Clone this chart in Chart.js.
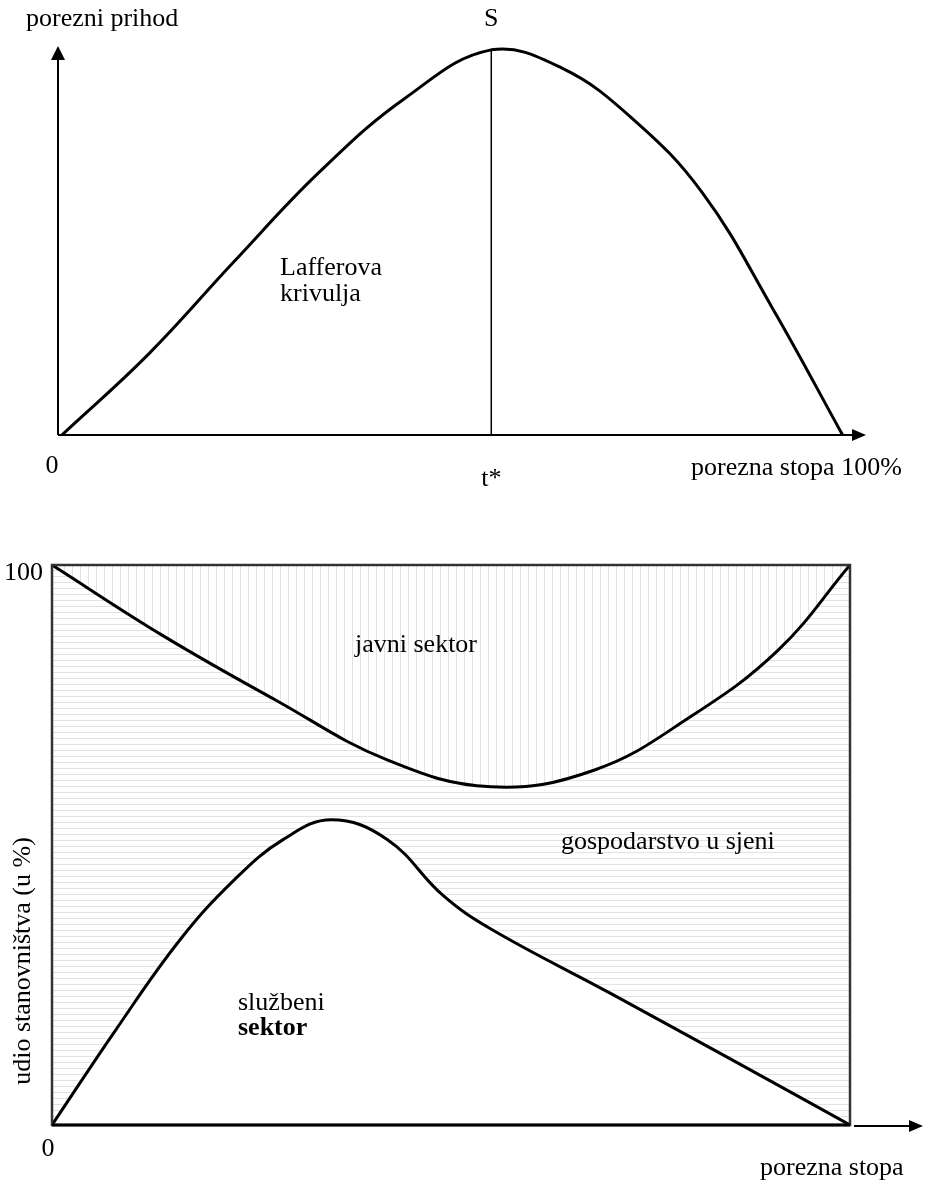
<!DOCTYPE html>
<html>
<head>
<meta charset="utf-8">
<script src="https://cdn.jsdelivr.net/npm/chart.js@4"></script>
<style>
  body { margin: 0; background: #fff; }
  canvas { position: absolute; left: 0; }
</style>
</head>
<body>
<canvas id="lafferChart" width="927" height="520" style="top:0"></canvas>
<canvas id="sectorChart" width="927" height="643" style="top:540px"></canvas>
<script>
// Lafferova krivulja (porezna stopa u %, porezni prihod relativno)
const lafferRate = [0, 11, 22, 33, 44, 55, 64, 73, 82, 91, 100];
const lafferRevenue = [0, 20.8, 44.9, 68.3, 87.5, 100, 95.3, 82.3, 63, 33, 0];
const tStar = 55;

// udio stanovništva (u %) - granica javnog sektora
const publicRate = [0, 14, 28, 42, 55, 68, 80, 91, 100];
const publicShare = [100, 87.3, 75.9, 65.2, 60.4, 63.4, 72.9, 84.8, 100];

// udio stanovništva (u %) - službeni sektor
const officialRate = [0, 8, 16, 23, 29, 35, 42, 49, 55, 70, 85, 100];
const officialShare = [0, 17, 33, 44, 51, 54.5, 51, 41, 35, 23.5, 11.8, 0];

const SERIF = '"Liberation Serif", "DejaVu Serif", serif';

function pairs(xs, ys) {
  return xs.map((x, i) => ({ x: x, y: ys[i] }));
}

function hatch(w, h, vertical) {
  const c = document.createElement('canvas');
  c.width = w;
  c.height = h;
  const g = c.getContext('2d');
  g.fillStyle = '#fff';
  g.fillRect(0, 0, w, h);
  g.fillStyle = '#e2e2e2';
  if (vertical) g.fillRect(0, 0, 1, h);
  else g.fillRect(0, 0, w, 1);
  return g.createPattern(c, 'repeat');
}

function arrowRight(ctx, x, y) {
  ctx.beginPath();
  ctx.moveTo(x, y);
  ctx.lineTo(x - 14, y - 6);
  ctx.lineTo(x - 14, y + 6);
  ctx.closePath();
  ctx.fill();
}

function arrowUp(ctx, x, y) {
  ctx.beginPath();
  ctx.moveTo(x, y);
  ctx.lineTo(x - 7, y + 14);
  ctx.lineTo(x + 7, y + 14);
  ctx.closePath();
  ctx.fill();
}

function text(ctx, str, x, y, align, bold) {
  ctx.font = (bold ? 'bold ' : '') + '26px ' + SERIF;
  ctx.textAlign = align || 'left';
  ctx.textBaseline = 'alphabetic';
  ctx.fillText(str, x, y);
}

const lafferDecor = {
  id: 'lafferDecor',
  beforeDatasetsDraw(chart) {
    const { ctx, chartArea: a } = chart;
    ctx.save();
    ctx.strokeStyle = '#000';
    ctx.fillStyle = '#000';
    ctx.lineWidth = 2;
    ctx.beginPath();
    ctx.moveTo(a.left, a.bottom);
    ctx.lineTo(a.left, a.top + 12);
    ctx.moveTo(a.left, a.bottom);
    ctx.lineTo(a.right - 12, a.bottom);
    ctx.stroke();
    arrowUp(ctx, a.left, a.top);
    arrowRight(ctx, a.right, a.bottom);
    ctx.restore();
  },
  afterDraw(chart) {
    const { ctx } = chart;
    const xs = chart.scales.x;
    ctx.save();
    ctx.fillStyle = '#000';
    text(ctx, 'porezni prihod', 26, 26);
    text(ctx, 'S', xs.getPixelForValue(tStar), 26, 'center');
    text(ctx, 'Lafferova', 280, 275);
    text(ctx, 'krivulja', 280, 301);
    text(ctx, '0', 52, 473, 'center');
    text(ctx, 't*', xs.getPixelForValue(tStar), 486, 'center');
    text(ctx, 'porezna stopa 100%', 691, 475);
    ctx.restore();
  }
};

const sectorDecor = {
  id: 'sectorDecor',
  beforeDraw(chart) {
    const { ctx, chartArea: a } = chart;
    ctx.save();
    ctx.fillStyle = hatch(6, 6, false);
    ctx.fillRect(a.left, a.top, a.right - a.left, a.bottom - a.top);
    ctx.restore();
  },
  afterDraw(chart) {
    const { ctx, chartArea: a } = chart;
    ctx.save();
    ctx.strokeStyle = '#333';
    ctx.lineWidth = 2.5;
    ctx.strokeRect(a.left, a.top, a.right - a.left, a.bottom - a.top);
    ctx.strokeStyle = '#000';
    ctx.lineWidth = 3;
    ctx.beginPath();
    ctx.moveTo(a.left, a.bottom);
    ctx.lineTo(a.right, a.bottom);
    ctx.stroke();
    ctx.lineWidth = 2;
    ctx.beginPath();
    ctx.moveTo(a.right + 4, a.bottom + 1);
    ctx.lineTo(911, a.bottom + 1);
    ctx.stroke();
    ctx.fillStyle = '#000';
    arrowRight(ctx, 923, a.bottom + 1);

    text(ctx, '100', 43, 40, 'right');
    text(ctx, 'javni sektor', 355, 112);
    text(ctx, 'gospodarstvo u sjeni', 561, 309);
    text(ctx, 'službeni', 238, 470);
    text(ctx, 'sektor', 238, 495, 'left', true);
    text(ctx, '0', 48, 616, 'center');
    text(ctx, 'porezna stopa', 760, 635);

    ctx.translate(21, 421);
    ctx.rotate(-Math.PI / 2);
    text(ctx, 'udio stanovništva (u %)', 0, 9, 'center');
    ctx.restore();
  }
};

new Chart(document.getElementById('lafferChart'), {
  type: 'line',
  data: {
    datasets: [{
      data: pairs(lafferRate, lafferRevenue),
      borderColor: '#000',
      borderWidth: 3,
      pointRadius: 0,
      tension: 0.4,
      fill: false
    }, {
      data: [{ x: tStar, y: 0 }, { x: tStar, y: 100 }],
      borderColor: '#000',
      borderWidth: 1.5,
      pointRadius: 0,
      fill: false
    }]
  },
  options: {
    responsive: false,
    animation: false,
    layout: { padding: { left: 58, top: 46, right: 61, bottom: 85 } },
    plugins: { legend: { display: false }, tooltip: { enabled: false } },
    scales: {
      x: { type: 'linear', min: -0.5, max: 103, display: false },
      y: { min: 0, max: 101, display: false }
    }
  },
  plugins: [lafferDecor]
});

new Chart(document.getElementById('sectorChart'), {
  type: 'line',
  data: {
    datasets: [{
      data: pairs(publicRate, publicShare),
      borderColor: '#000',
      borderWidth: 3,
      pointRadius: 0,
      tension: 0.4,
      backgroundColor: hatch(8, 8, true),
      fill: 'end'
    }, {
      data: pairs(officialRate, officialShare),
      borderColor: '#000',
      borderWidth: 3,
      pointRadius: 0,
      tension: 0.4,
      backgroundColor: '#fff',
      fill: 'origin'
    }]
  },
  options: {
    responsive: false,
    animation: false,
    layout: { padding: { left: 52, top: 25, right: 77, bottom: 58 } },
    plugins: { legend: { display: false }, tooltip: { enabled: false } },
    scales: {
      x: { type: 'linear', min: 0, max: 100, display: false },
      y: { min: 0, max: 100, display: false }
    }
  },
  plugins: [sectorDecor]
});
</script>
</body>
</html>
